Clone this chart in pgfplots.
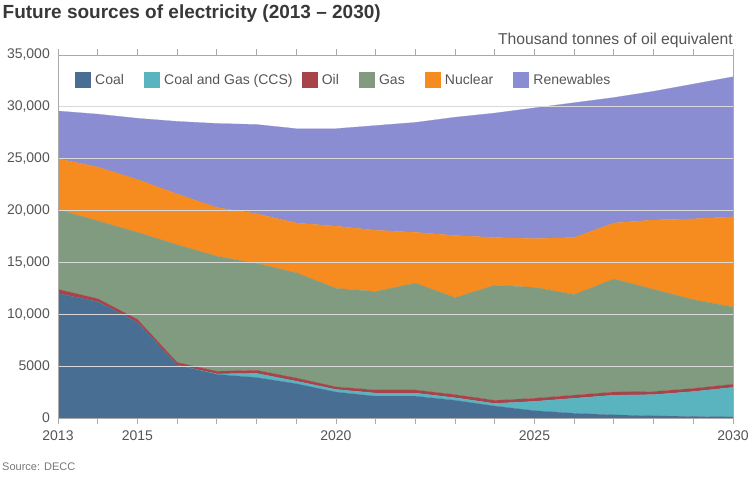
\documentclass[border=0pt]{standalone}
\usepackage{fontspec}
\setmainfont{Liberation Sans}
\usepackage{pgfplots}
\pgfplotsset{compat=1.18}
\usepackage{pgfplotstable}

\definecolor{coal}{HTML}{486F93}
\definecolor{ccs}{HTML}{59B4C0}
\definecolor{oil}{HTML}{A8434A}
\definecolor{gas}{HTML}{809B80}
\definecolor{nuclear}{HTML}{F68B1F}
\definecolor{renew}{HTML}{8A8DD1}
\definecolor{gridc}{HTML}{D9D9D9}
\definecolor{axisc}{HTML}{AAAAAA}
\definecolor{labelc}{HTML}{555555}
\definecolor{titlec}{HTML}{383838}

% thousand tonnes of oil equivalent, per source
\pgfplotstableread{
year coal ccs  oil gas   nuclear renew
2013 12000 0    400 7700  4900 4600
2014 11200 0    300 7500  5200 5100
2015 9200  0    300 8400  5100 5900
2016 5100  0    250 11350 4900 7000
2017 4200  50   250 11100 4700 8100
2018 3900  400  300 10300 4800 8600
2019 3300  250  300 10150 4800 9100
2020 2500  250  250 9500  6000 9400
2021 2100  300  300 9500  5900 10100
2022 2100  300  300 10300 4900 10600
2023 1700  250  300 9350  6000 11400
2024 1150  250  300 11100 4600 12000
2025 700   900  300 10700 4700 12600
2026 450   1450 300 9700  5500 13000
2027 300   1900 300 10900 5400 12100
2028 200   2050 300 9850  6700 12400
2029 150   2400 300 8550  7800 13000
2030 100   2850 300 7450  8700 13500
}\energy

\begin{document}
\begin{tikzpicture}[x=1pt,y=1pt]
\path[use as bounding box] (0,0) rectangle (754,484);
\begin{axis}[
  at={(58pt,66pt)}, anchor=south west,
  scale only axis, width=675pt, height=363pt,
  xmin=2013, xmax=2030, ymin=0, ymax=35000,
  stack plots=y,
  axis on top,
  axis line style={draw=axisc, line width=0.8pt},
  xtick={2013,2015,2020,2025,2030},
  minor xtick={2014,2016,2017,2018,2019,2021,2022,2023,2024,2026,2027,2028,2029},
  tick align=outside,
  major tick length=6pt, minor tick length=6pt,
  xtick style={draw=axisc, line width=0.8pt},
  minor tick style={draw=axisc, line width=0.8pt},
  ytick={0,5000,...,35000},
  yticklabels={0,5000,{10,000},{15,000},{20,000},{25,000},{30,000},{35,000}},
  ytick style={draw=none},
  scaled ticks=false,
  x tick label style={/pgf/number format/1000 sep={}},
  xticklabel style={inner sep=0pt, yshift=-7pt},
  yticklabel style={inner sep=0pt, xshift=-2pt},
  tick label style={font=\fontsize{14}{16}\selectfont, text=labelc},
  /pgf/number format/assume math mode=true,
  ymajorgrids,
  major grid style={draw=gridc, line width=0.8pt},
  legend columns=6,
  legend style={at={(0.0252,0.931)}, anchor=west, draw=none, fill=none,
    inner sep=0pt, outer sep=0pt,
    nodes={inner sep=0pt, outer sep=0pt},
    font=\fontsize{14}{16}\selectfont, text=labelc,
    /tikz/every odd column/.append style={column sep=5pt},
    /tikz/every even column/.append style={column sep=20pt}},
  legend image code/.code={\fill[#1] (0pt,-7.5pt) rectangle (15pt,7.5pt);},
]
\addplot[fill=coal, draw=coal, line width=0.2pt] table[x=year,y=coal]{\energy} \closedcycle;
\addplot[fill=ccs, draw=ccs, line width=0.2pt] table[x=year,y=ccs]{\energy} \closedcycle;
\addplot[fill=oil, draw=oil, line width=0.2pt] table[x=year,y=oil]{\energy} \closedcycle;
\addplot[fill=gas, draw=gas, line width=0.2pt] table[x=year,y=gas]{\energy} \closedcycle;
\addplot[fill=nuclear, draw=nuclear, line width=0.2pt] table[x=year,y=nuclear]{\energy} \closedcycle;
\addplot[fill=renew, draw=renew, line width=0.2pt] table[x=year,y=renew]{\energy} \closedcycle;
\legend{Coal, Coal and Gas (CCS)\kern-11pt, Oil, Gas, Nuclear, Renewables}
\end{axis}
\node[anchor=base west, inner sep=0pt, text=titlec, font=\fontsize{19}{22}\selectfont\bfseries] at (2.5,465) {Future sources of electricity (2013 – 2030)};
\node[anchor=east, inner sep=0pt, text=labelc, font=\fontsize{15.7}{18}\selectfont] at (733,444) {Thousand tonnes of oil equivalent};
\node[anchor=west, inner sep=0pt, text=labelc!80, font=\fontsize{11}{13}\selectfont] at (2,17) {Source: DECC};
\end{tikzpicture}
\end{document}
